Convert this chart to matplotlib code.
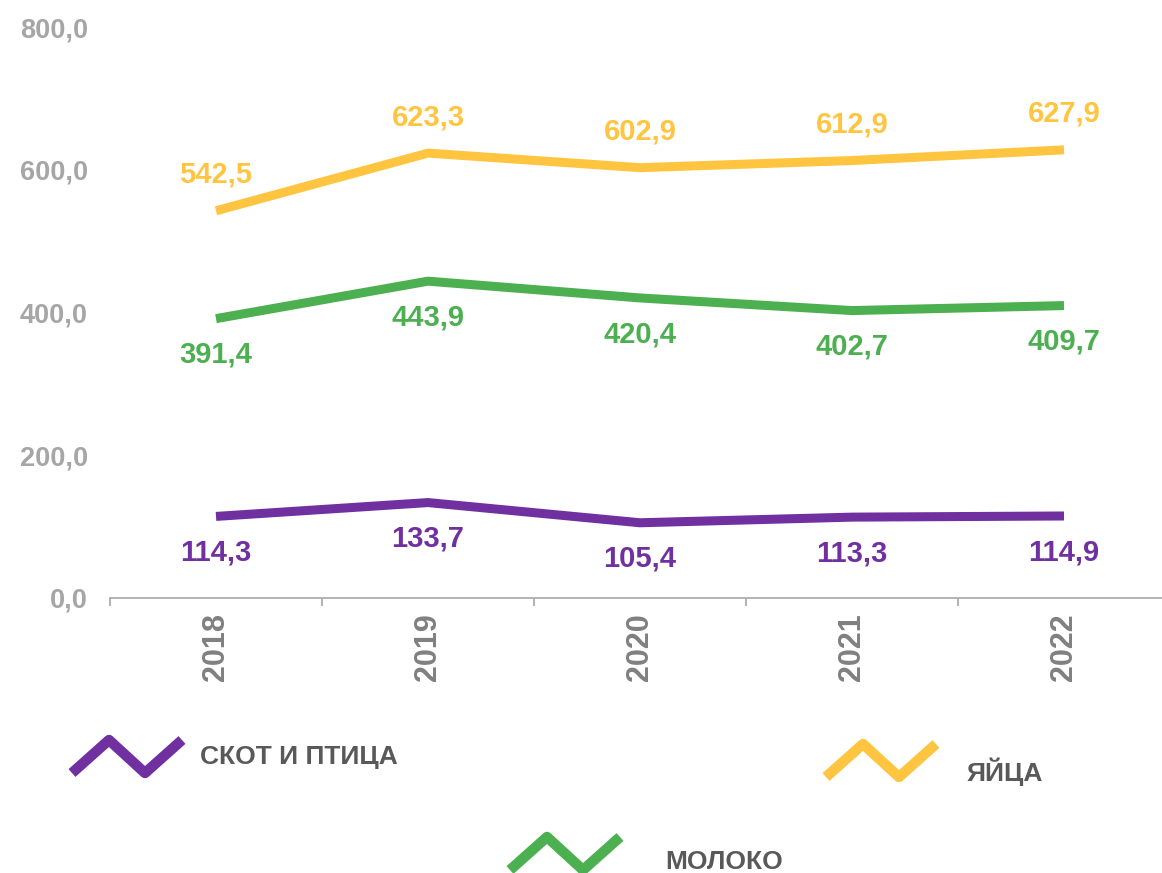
import matplotlib.pyplot as plt
from matplotlib.lines import Line2D

plt.rcParams['font.family'] = ['Liberation Sans', 'DejaVu Sans']
plt.rcParams['font.weight'] = 'bold'

# Data
years = ['2018', '2019', '2020', '2021', '2022']
livestock = [114.3, 133.7, 105.4, 113.3, 114.9]
milk = [391.4, 443.9, 420.4, 402.7, 409.7]
eggs = [542.5, 623.3, 602.9, 612.9, 627.9]

purple = '#7030A0'
green = '#4CAF50'
yellow = '#FFC540'

W, H = 1162, 873
fig = plt.figure(figsize=(W / 100, H / 100), dpi=100)
ax = fig.add_axes([110 / W, (H - 598) / H, 1060 / W, 571 / H])

x = range(len(years))
series = [(livestock, purple, 1), (milk, green, 1), (eggs, yellow, -1)]
for vals, col, side in series:
    ax.plot(x, vals, color=col, lw=6.5, solid_capstyle='butt', zorder=3)
    for xi, v in zip(x, vals):
        ax.annotate(f'{v:.1f}'.replace('.', ','), (xi, v),
                    xytext=(0, -26 * side), textcoords='offset points',
                    ha='center', va='center', color=col, fontsize=21,
                    fontweight='bold')

ax.set_xlim(-0.5, 4.5)
ax.set_ylim(0, 800)
ax.set_yticks([0, 200, 400, 600, 800])
ax.set_yticklabels([f'{v:.1f}'.replace('.', ',') for v in [0, 200, 400, 600, 800]])
ax.tick_params(axis='y', length=0, pad=16, labelsize=19.5, labelcolor='#A6A6A6')

ax.set_xticks([i - 0.5 for i in range(6)])
ax.set_xticklabels([])
ax.tick_params(axis='x', which='major', length=6, color='#A6A6A6', width=1.2)
ax.set_xticks(list(x), minor=True)
ax.set_xticklabels(years, minor=True, rotation=90)
ax.tick_params(axis='x', which='minor', length=0, pad=11, labelsize=22,
               labelcolor='#808080')

for s in ['top', 'right', 'left']:
    ax.spines[s].set_visible(False)
ax.spines['bottom'].set_color('#A6A6A6')
ax.spines['bottom'].set_linewidth(1.2)
ax.spines['bottom'].set_zorder(5)

# Legend with zigzag symbols (figure pixel coords)
def zigzag(x0, y0, col):
    xs = [x0, x0 + 37, x0 + 73, x0 + 110]
    ys = [y0, y0 - 33, y0, y0 - 33]
    fig.add_artist(Line2D([v / W for v in xs], [1 - v / H for v in ys],
                          color=col, lw=7.5, solid_capstyle='butt',
                          transform=fig.transFigure))

zigzag(72, 773, purple)
fig.text(200 / W, 1 - 757 / H, 'СКОТ И ПТИЦА', color='#595959', fontsize=19,
         fontweight='bold', va='center', ha='left')
zigzag(826, 777, yellow)
fig.text(967 / W, 1 - 772 / H, 'ЯЙЦА', color='#595959', fontsize=19,
         fontweight='bold', va='center', ha='left')
zigzag(510, 870, green)
fig.text(665 / W, 1 - 862 / H, 'МОЛОКО', color='#595959', fontsize=19,
         fontweight='bold', va='center', ha='left')

fig.savefig('out.png', dpi=100)
